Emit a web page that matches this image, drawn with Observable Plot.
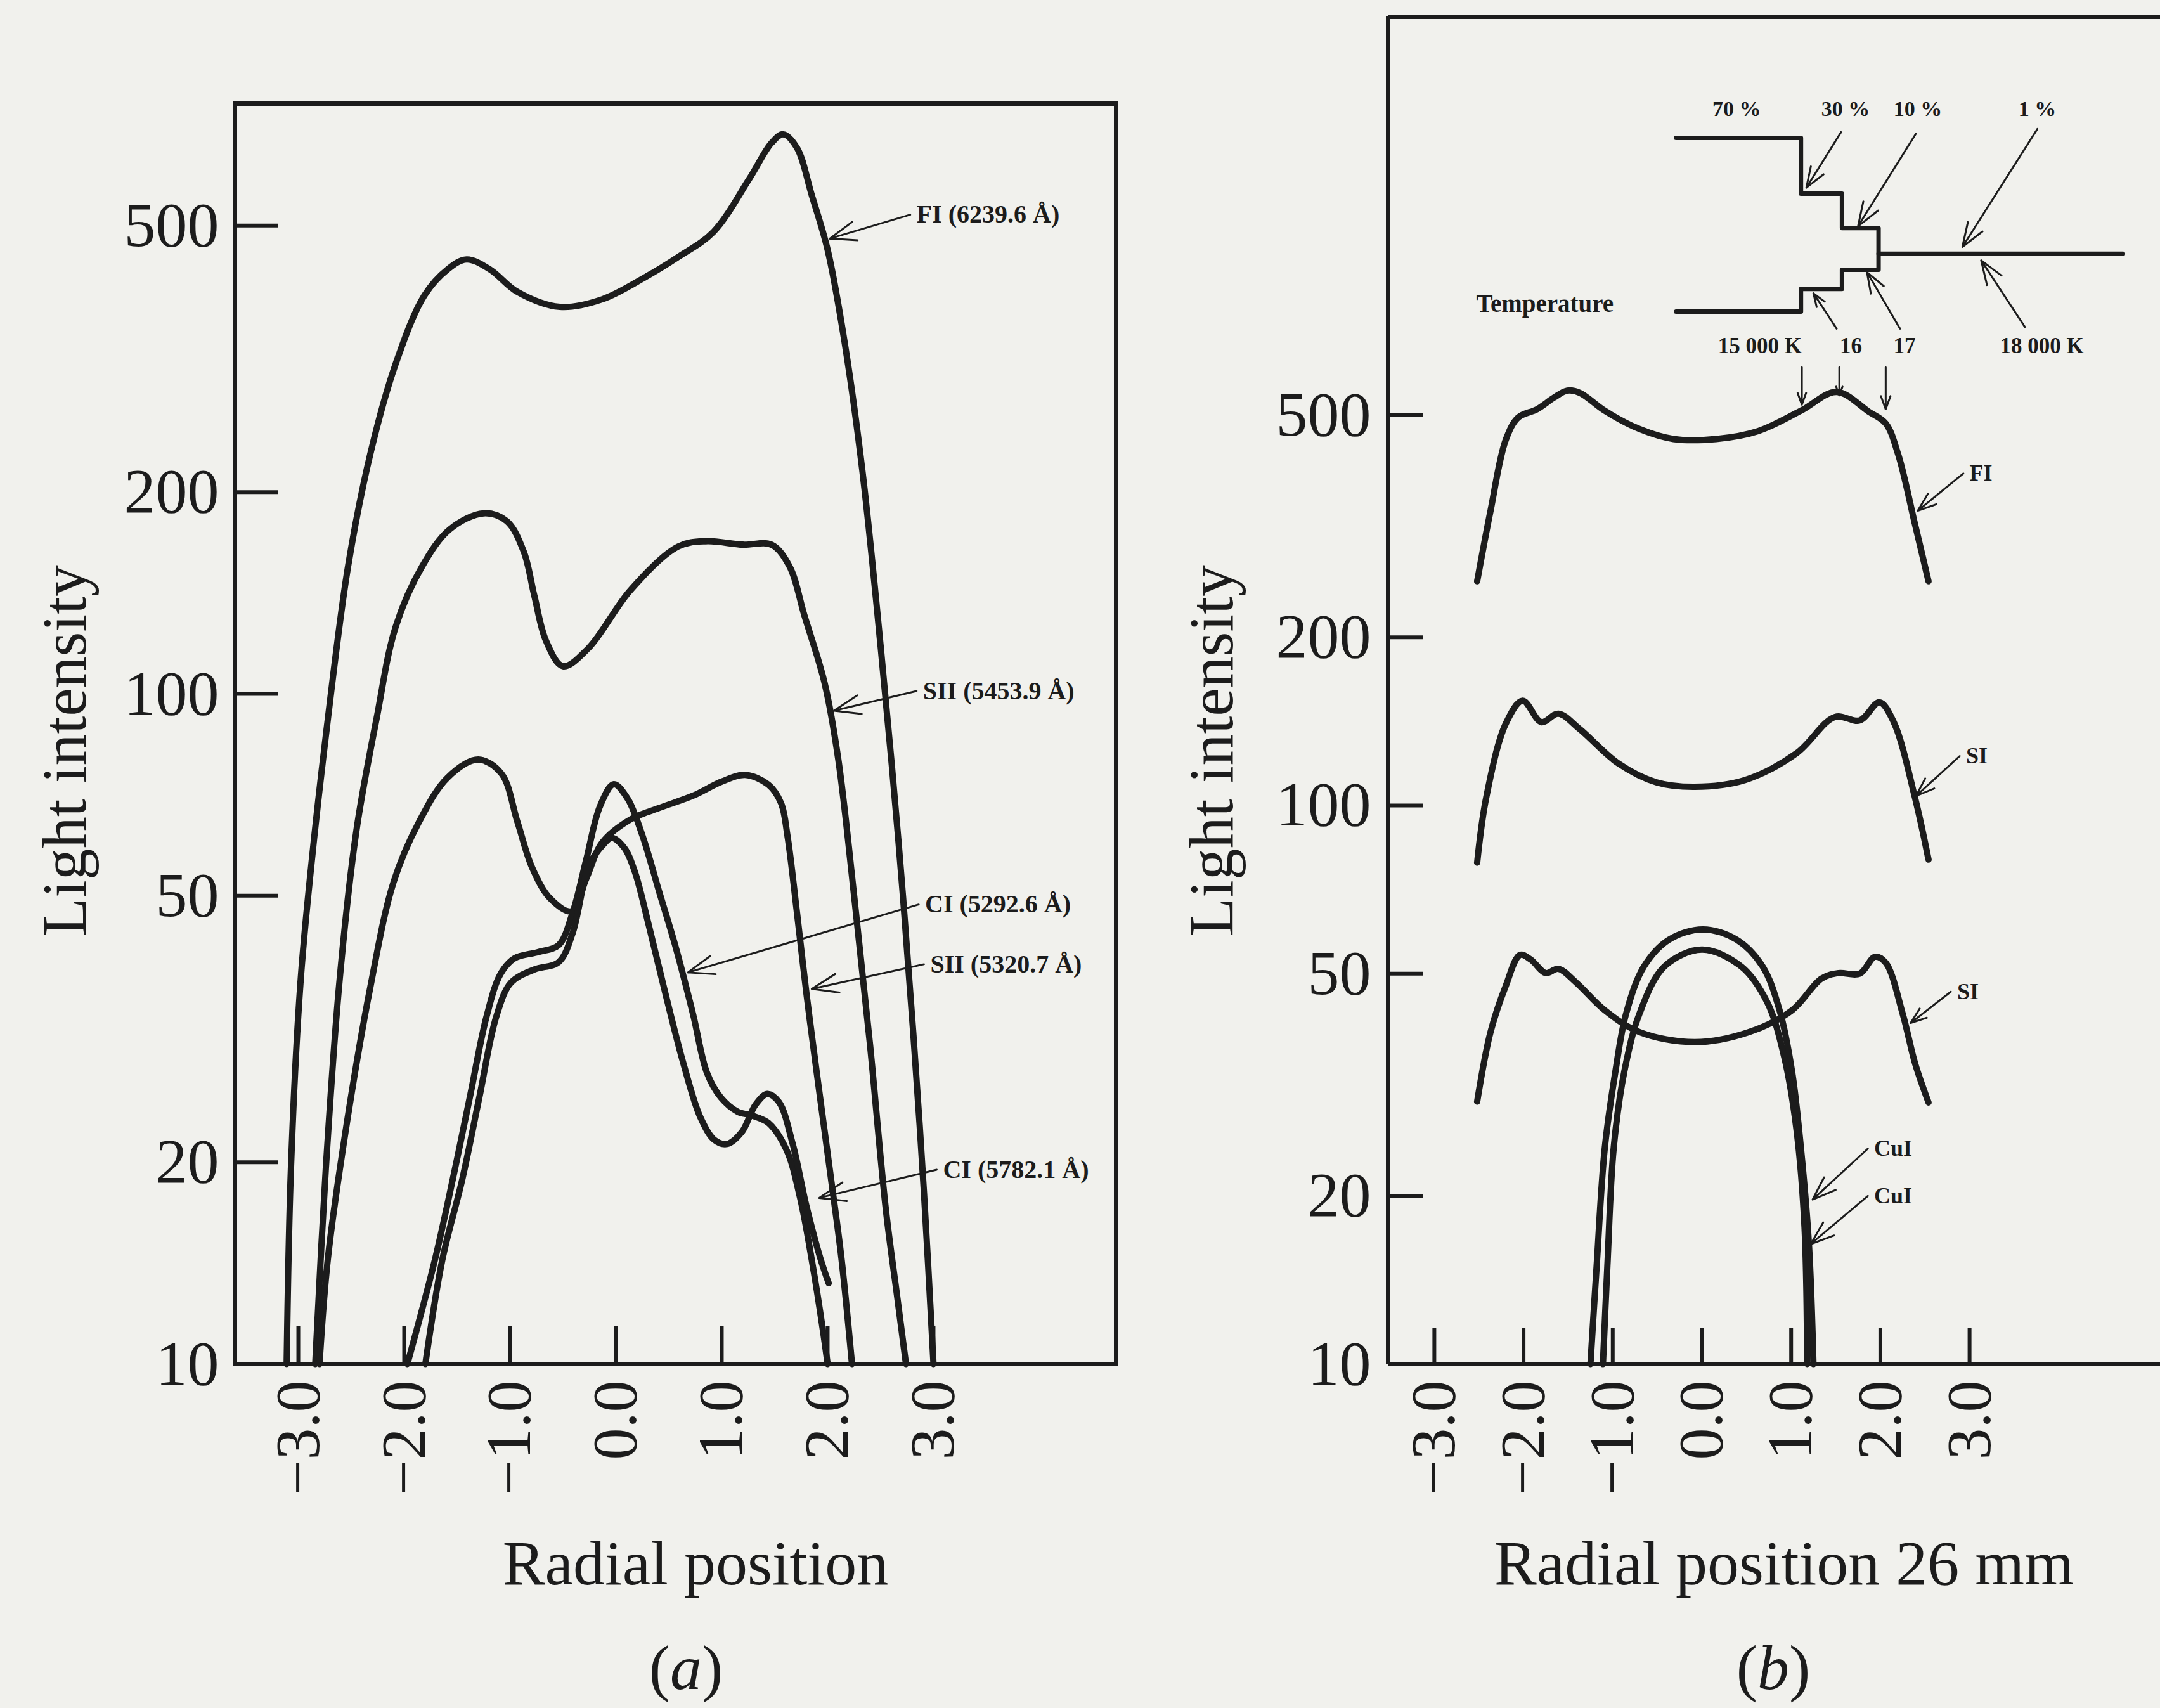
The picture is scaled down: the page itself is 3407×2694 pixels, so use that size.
<!DOCTYPE html>
<html><head><meta charset="utf-8">
<script src="https://cdn.jsdelivr.net/npm/d3@7"></script>
<script src="https://cdn.jsdelivr.net/npm/@observablehq/plot@0.6"></script>
<style>
html,body{margin:0;padding:0;background:#f1f1ed;overflow:hidden;width:3407px;height:2694px;position:relative}
#a{position:absolute;left:0;top:0;width:1800px;height:2400px}
#b{position:absolute;left:1800px;top:0;width:1630px;height:2400px}
#ov{position:absolute;left:0;top:0}
</style></head><body>
<div id="a"></div><div id="b"></div>
<svg id="ov" width="3407" height="2694"></svg>
<script>
// ---------- tick values / labels ----------
const xTicks = [-3, -2, -1, 0, 1, 2, 3];
const xTickLabels = ["−3.0", "−2.0", "−1.0", "0.0", "1.0", "2.0", "3.0"];
const yTicks = [10, 20, 50, 100, 200, 500];
const yTickLabels = ["10", "20", "50", "100", "200", "500"];

// ---------- panel (a): [radial position, light intensity] ----------
const FI_6239 = [[-3.11,10],[-3.07,19.5],[-2.98,37],[-2.88,55],[-2.72,92],[-2.53,155],[-2.32,228],[-2.08,311],[-1.81,393],[-1.59,430],[-1.41,445],[-1.19,430],[-0.93,398],[-0.53,378],[-0.13,388],[0.28,419],[0.59,449],[0.92,489],[1.26,587],[1.47,664],[1.58,684],[1.71,653],[1.85,555],[2.0,460],[2.16,335],[2.33,214],[2.5,118],[2.67,60],[2.81,31],[2.91,18],[3.0,10]];
const SII_5453 = [[-2.84,10],[-2.74,19.6],[-2.61,37.4],[-2.45,62.7],[-2.26,92],[-2.08,126],[-1.83,155],[-1.57,176],[-1.25,186],[-1.03,181],[-0.87,163],[-0.77,140],[-0.66,120],[-0.5,110],[-0.26,117],[0.14,143],[0.59,166],[0.85,169],[1.2,167],[1.47,167],[1.64,155],[1.78,131],[1.97,104],[2.1,80],[2.25,50],[2.4,30],[2.55,17],[2.66,12.5],[2.74,10]];
const SII_5320 = [[-2.8,10],[-2.72,14.4],[-2.53,23.5],[-2.32,36.5],[-2.1,52.4],[-1.86,64.4],[-1.59,75],[-1.3,79.8],[-1.08,76],[-0.93,64.4],[-0.79,55],[-0.62,49.5],[-0.42,47.4],[-0.28,53],[-0.13,60],[0.14,65],[0.4,67.5],[0.73,70.5],[1.0,74],[1.22,75.7],[1.44,73.2],[1.56,68.7],[1.62,61.5],[1.71,47.2],[1.8,35.7],[1.9,27],[2.03,19],[2.13,14.4],[2.23,10]];
const CI_5292 = [[-1.97,10],[-1.71,14.3],[-1.54,18.9],[-1.38,25],[-1.22,33.1],[-1.09,38.2],[-0.96,40.3],[-0.73,41.2],[-0.54,42.2],[-0.41,47.1],[-0.28,56.6],[-0.15,68],[-0.02,73.3],[0.11,69.8],[0.25,61.5],[0.41,50.6],[0.57,41.6],[0.73,33.2],[0.86,27.2],[0.99,25],[1.15,23.8],[1.28,23.5],[1.44,22.9],[1.61,20.9],[1.74,17.7],[1.87,13.7],[1.96,11.1],[2.0,10]];
const CI_5782 = [[-1.8,10],[-1.64,14.3],[-1.45,18.9],[-1.29,25],[-1.13,33],[-0.99,37.1],[-0.77,38.8],[-0.54,39.8],[-0.41,43.9],[-0.25,55.7],[-0.11,59.8],[-0.04,61],[0.08,58.9],[0.18,54.2],[0.31,45.2],[0.47,35.6],[0.64,28],[0.8,23.3],[0.93,21.6],[1.05,21.3],[1.19,22.2],[1.32,24.4],[1.43,25.3],[1.54,24.6],[1.67,21.3],[1.8,17.2],[1.93,14.4],[2.01,13.2]];

const aLabelText = ["FI (6239.6 Å)", "SII (5453.9 Å)", "CI (5292.6 Å)", "SII (5320.7 Å)", "CI (5782.1 Å)"];
const aLabelX = [2.84, 2.9, 2.92, 2.97, 3.09];
const aLabelY = [519, 101, 48.5, 39.5, 19.5];
const aArrowTipX = [2.02, 2.06, 0.68, 1.85, 1.92];
const aArrowTipY = [478, 94.4, 38.4, 36.3, 17.7];

// ---------- panel (b) ----------
const FI_b = [[-2.52,252],[-2.37,337],[-2.2,451],[-2.06,495],[-1.85,512],[-1.66,537],[-1.51,553],[-1.37,548],[-1.09,509],[-0.7,472],[-0.32,453],[0.16,453],[0.63,468],[1.11,509],[1.51,550],[1.87,507],[2.06,483],[2.2,425],[2.39,318],[2.54,252]];
const SI_b_upper = [[-2.52,79],[-2.42,103],[-2.2,140],[-2.01,154],[-1.8,141],[-1.61,146],[-1.37,137],[-0.94,119],[-0.51,110],[-0.08,108],[0.48,111],[1.06,124],[1.49,144],[1.77,142],[1.99,153],[2.15,141],[2.39,103],[2.54,80]];
const SI_b_lower = [[-2.52,29.5],[-2.37,39.3],[-2.2,47.5],[-2.04,54],[-1.92,53],[-1.75,50.1],[-1.61,51],[-1.41,48.2],[-1.09,43],[-0.7,39.3],[-0.08,37.7],[0.53,39.3],[1.01,43],[1.34,49],[1.53,50.1],[1.77,50],[1.94,53.6],[2.06,52.3],[2.25,42.4],[2.39,34.5],[2.54,29.4]];
const CuI_outer = [[-1.25,10],[-1.18,15],[-1.09,24.3],[-0.97,33.4],[-0.85,42.4],[-0.65,51.5],[-0.37,57.5],[0.01,60],[0.39,57.5],[0.68,51.5],[0.87,43],[1.01,33.4],[1.11,24.3],[1.2,16.3],[1.25,10]];
const CuI_inner = [[-1.11,10],[-1.06,15],[-0.99,24.3],[-0.87,33.4],[-0.7,42.4],[-0.42,51.5],[0.0,55.2],[0.44,51.5],[0.73,44.5],[0.92,35.6],[1.06,26.3],[1.15,17.6],[1.18,10]];

const bLabelText = ["FI", "SI", "SI", "CuI", "CuI"];
const bLabelX = [3.0, 2.96, 2.86, 1.93, 1.93];
const bLabelY = [393, 122.6, 46.4, 24.3, 20];
const bArrowTipX = [2.42, 2.4, 2.34, 1.24, 1.22];
const bArrowTipY = [337, 104, 40.8, 19.7, 16.4];

// inset: temperature / concentration schematic (panel b data space)
const stepOutline = [[-0.29,1567],[1.11,1567],[1.11,1245],[1.57,1245],[1.57,1081],[1.98,1081],[1.98,910],[1.57,910],[1.57,841],[1.11,841],[1.11,766],[-0.29,766]];
const stepCenterLine = [[1.98,972],[4.72,972]];
const insetTopLabels = ["70 %", "30 %", "10 %", "1 %"];
const insetTopX = [0.39, 1.61, 2.42, 3.76];
const insetTopY = 1767;
const insetBottomLabels = ["15 000 K", "16", "17", "18 000 K"];
const insetBottomX = [0.65, 1.67, 2.27, 3.81];
const insetBottomY = 665;
const insetArrows = [
  {x1:1.56,y1:1605,x2:1.17,y2:1276},
  {x1:2.40,y1:1596,x2:1.75,y2:1089},
  {x1:3.76,y1:1626,x2:2.92,y2:1000},
  {x1:1.51,y1:714,x2:1.25,y2:826},
  {x1:2.22,y1:714,x2:1.85,y2:901},
  {x1:3.62,y1:719,x2:3.13,y2:946},
  {x1:1.12,y1:609,x2:1.12,y2:522},
  {x1:1.54,y1:609,x2:1.54,y2:542},
  {x1:2.06,y1:609,x2:2.06,y2:512}
];
const tempLabel = {text:"Temperature", x:-1.76, y:790};

// ---------- helpers ----------
const ink = "#1c1c1c";
const font = "Liberation Serif, Times New Roman, serif";
const rows = (name, pts) => pts.map(([x, y]) => ({series: name, x, y}));
const xFmt = d => xTickLabels[xTicks.indexOf(d)];
const yFmt = d => yTickLabels[yTicks.indexOf(d)];
const idx = [0,1,2,3,4];

// ---------- panel (a) ----------
const aRows = [
  ...rows("FI", FI_6239), ...rows("SII5453", SII_5453), ...rows("SII5320", SII_5320),
  ...rows("CI5292", CI_5292), ...rows("CI5782", CI_5782)
];
const aPlotW = 1760 - 370, aPlotH = 2151 - 163;
const plotA = Plot.plot({
  width: 1800, height: 2400,
  marginLeft: 370, marginRight: 40, marginTop: 163, marginBottom: 249,
  style: {background: "transparent", fontFamily: font, fontSize: "100px", color: ink, maxWidth: "none", overflow: "visible"},
  x: {domain: [-3.599, 4.725]},
  y: {type: "log", domain: [10, 760]},
  marks: [
    Plot.ruleX(xTicks, {stroke: ink, strokeWidth: 6, insetTop: aPlotH - 60}),
    Plot.ruleY(yTicks, {stroke: ink, strokeWidth: 6, insetRight: aPlotW - 68}),
    Plot.line(aRows, {x: "x", y: "y", z: "series", curve: "catmull-rom", stroke: ink, strokeWidth: 10}),
    Plot.arrow(idx, {x1: i => aLabelX[i] - 0.06, y1: i => aLabelY[i], x2: i => aArrowTipX[i], y2: i => aArrowTipY[i],
      stroke: ink, strokeWidth: 3, headLength: 22, headAngle: 40}),
    Plot.text(idx, {x: i => aLabelX[i], y: i => aLabelY[i], text: i => aLabelText[i], textAnchor: "start",
      fontSize: 40, fontWeight: "bold", fill: ink, fontFamily: font, letterSpacing: "2px"}),
    Plot.frame({stroke: ink, strokeWidth: 7}),
    Plot.axisX(xTicks, {tickSize: 0, tickRotate: -90, tickPadding: 26, tickFormat: xFmt, label: null, fill: ink}),
    Plot.axisY(yTicks, {tickSize: 0, tickPadding: 25, tickFormat: yFmt, label: null, fill: ink})
  ]
});
document.getElementById("a").append(plotA);

// ---------- panel (b) ----------
const bRows = [
  ...rows("FI", FI_b), ...rows("SIu", SI_b_upper), ...rows("SIl", SI_b_lower),
  ...rows("CuIo", CuI_outer), ...rows("CuIi", CuI_inner)
];
const bPlotW = 1630 - 389, bPlotH = 2151 - 26;
const plotB = Plot.plot({
  width: 1630, height: 2400,
  marginLeft: 389, marginRight: 0, marginTop: 26, marginBottom: 249,
  style: {background: "transparent", fontFamily: font, fontSize: "100px", color: ink, maxWidth: "none", overflow: "visible"},
  x: {domain: [-3.518, 5.302]},
  y: {type: "log", domain: [10, 2582]},
  marks: [
    Plot.ruleX(xTicks, {stroke: ink, strokeWidth: 6, insetTop: bPlotH - 56}),
    Plot.ruleY(yTicks, {stroke: ink, strokeWidth: 6, insetRight: bPlotW - 56}),
    Plot.line(bRows, {x: "x", y: "y", z: "series", curve: "catmull-rom", stroke: ink, strokeWidth: 10}),
    Plot.arrow(idx, {x1: i => bLabelX[i] - 0.07, y1: i => bLabelY[i], x2: i => bArrowTipX[i], y2: i => bArrowTipY[i],
      stroke: ink, strokeWidth: 3, headLength: 20, headAngle: 40}),
    Plot.text(idx, {x: i => bLabelX[i], y: i => bLabelY[i], text: i => bLabelText[i], textAnchor: "start",
      fontSize: 36, fontWeight: "bold", fill: ink, fontFamily: font}),
    // inset schematic
    Plot.line(stepOutline, {x: d => d[0], y: d => d[1], stroke: ink, strokeWidth: 7}),
    Plot.line(stepCenterLine, {x: d => d[0], y: d => d[1], stroke: ink, strokeWidth: 7}),
    Plot.arrow(insetArrows, {x1: "x1", y1: "y1", x2: "x2", y2: "y2", stroke: ink, strokeWidth: 3, headLength: 20, headAngle: 40}),
    Plot.text(insetTopLabels, {x: (d, i) => insetTopX[i], y: () => insetTopY, text: d => d, fontSize: 34, fontWeight: "bold", fill: ink, fontFamily: font}),
    Plot.text(insetBottomLabels, {x: (d, i) => insetBottomX[i], y: () => insetBottomY, text: d => d, fontSize: 35, fontWeight: "bold", fill: ink, fontFamily: font}),
    Plot.text([tempLabel], {x: "x", y: "y", text: "text", fontSize: 39, fontWeight: "bold", fill: ink, fontFamily: font}),
    // frame: left, bottom, top (right side lies beyond the page edge)
    Plot.ruleX([-3.518], {stroke: ink, strokeWidth: 7}),
    Plot.ruleY([10, 2582], {stroke: ink, strokeWidth: 7}),
    Plot.axisX(xTicks, {tickSize: 0, tickRotate: -90, tickPadding: 26, tickFormat: xFmt, label: null, fill: ink}),
    Plot.axisY(yTicks, {tickSize: 0, tickPadding: 27, tickFormat: yFmt, label: null, fill: ink})
  ]
});
document.getElementById("b").append(plotB);

// ---------- axis titles and panel captions ----------
const ov = d3.select("#ov").style("font-family", font).attr("fill", ink);
const yTitles = [{x: 135, y: 1184}, {x: 1944, y: 1184}];
yTitles.forEach(p => ov.append("text").attr("transform", `translate(${p.x},${p.y}) rotate(-90)`)
  .attr("text-anchor", "middle").attr("font-size", 100).text("Light intensity"));
const xTitles = [{x: 1097, y: 2499, t: "Radial position"}, {x: 2814, y: 2499, t: "Radial position 26 mm"}];
xTitles.forEach(p => ov.append("text").attr("x", p.x).attr("y", p.y).attr("text-anchor", "middle").attr("font-size", 100).text(p.t));
const captions = [{x: 1082, y: 2664, t: "a"}, {x: 2797, y: 2664, t: "b"}];
captions.forEach(p => {
  const t = ov.append("text").attr("x", p.x).attr("y", p.y).attr("text-anchor", "middle").attr("font-size", 100);
  t.append("tspan").text("(");
  t.append("tspan").attr("font-style", "italic").text(p.t);
  t.append("tspan").text(")");
});
</script>
</body></html>
